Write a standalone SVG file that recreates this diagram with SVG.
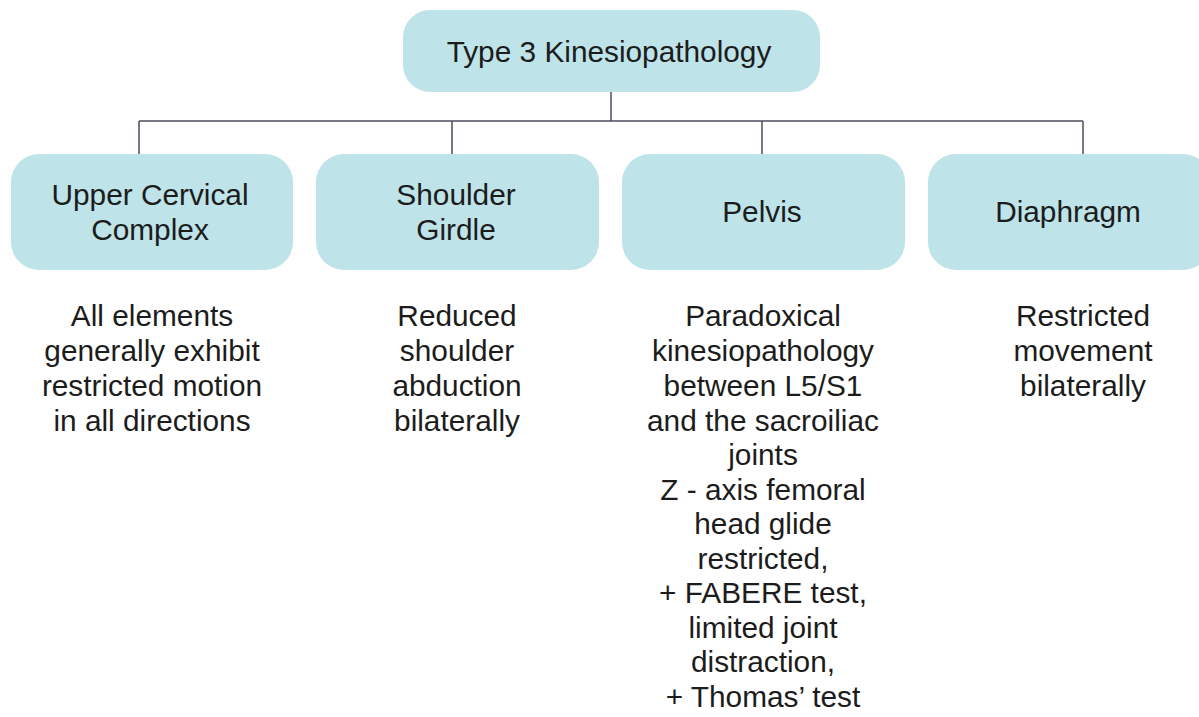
<svg xmlns="http://www.w3.org/2000/svg" width="1199" height="717" viewBox="0 0 1199 717">
<style>
.box{fill:#bee3e8;}
.t{font-family:"Liberation Sans",Arial,sans-serif;font-size:29.8px;fill:#1c1c1c;text-anchor:middle;}
.c{stroke:#4b4f5c;stroke-width:1.5;fill:none;}
</style>
<rect width="1199" height="717" fill="#ffffff"/>
<g id="connectors">
<path class="c" d="M611 92V121M139 121H1083M139 121V154M452 121V154M762 121V154M1083 121V154"/>
</g>
<g id="root">
<rect class="box" x="403" y="10" width="417" height="82" rx="27"/>
<text class="t" x="609" y="62">Type 3 Kinesiopathology</text>
</g>
<g id="upper-cervical">
<rect class="box" x="11" y="154" width="282" height="116" rx="28"/>
<text class="t" x="150" y="205">Upper Cervical</text>
<text class="t" x="150" y="240">Complex</text>
</g>
<g id="shoulder">
<rect class="box" x="316" y="154" width="283" height="116" rx="28"/>
<text class="t" x="456" y="205">Shoulder</text>
<text class="t" x="456" y="240">Girdle</text>
</g>
<g id="pelvis">
<rect class="box" x="622" y="154" width="283" height="116" rx="28"/>
<text class="t" x="762" y="222">Pelvis</text>
</g>
<g id="diaphragm">
<rect class="box" x="928" y="154" width="283" height="116" rx="28"/>
<text class="t" x="1068" y="222">Diaphragm</text>
</g>
<g id="desc-upper-cervical">
<text class="t" x="152" y="326">All elements</text>
<text class="t" x="152" y="361">generally exhibit</text>
<text class="t" x="152" y="396">restricted motion</text>
<text class="t" x="152" y="431">in all directions</text>
</g>
<g id="desc-shoulder">
<text class="t" x="457" y="326">Reduced</text>
<text class="t" x="457" y="361">shoulder</text>
<text class="t" x="457" y="396">abduction</text>
<text class="t" x="457" y="431">bilaterally</text>
</g>
<g id="desc-pelvis">
<text class="t" x="763" y="326">Paradoxical</text>
<text class="t" x="763" y="361">kinesiopathology</text>
<text class="t" x="763" y="396">between L5/S1</text>
<text class="t" x="763" y="431">and the sacroiliac</text>
<text class="t" x="763" y="465">joints</text>
<text class="t" x="763" y="500">Z - axis femoral</text>
<text class="t" x="763" y="534">head glide</text>
<text class="t" x="763" y="569">restricted,</text>
<text class="t" x="763" y="603">+ FABERE test,</text>
<text class="t" x="763" y="638">limited joint</text>
<text class="t" x="763" y="672">distraction,</text>
<text class="t" x="763" y="707">+ Thomas’ test</text>
</g>
<g id="desc-diaphragm">
<text class="t" x="1083" y="326">Restricted</text>
<text class="t" x="1083" y="361">movement</text>
<text class="t" x="1083" y="396">bilaterally</text>
</g>
</svg>
